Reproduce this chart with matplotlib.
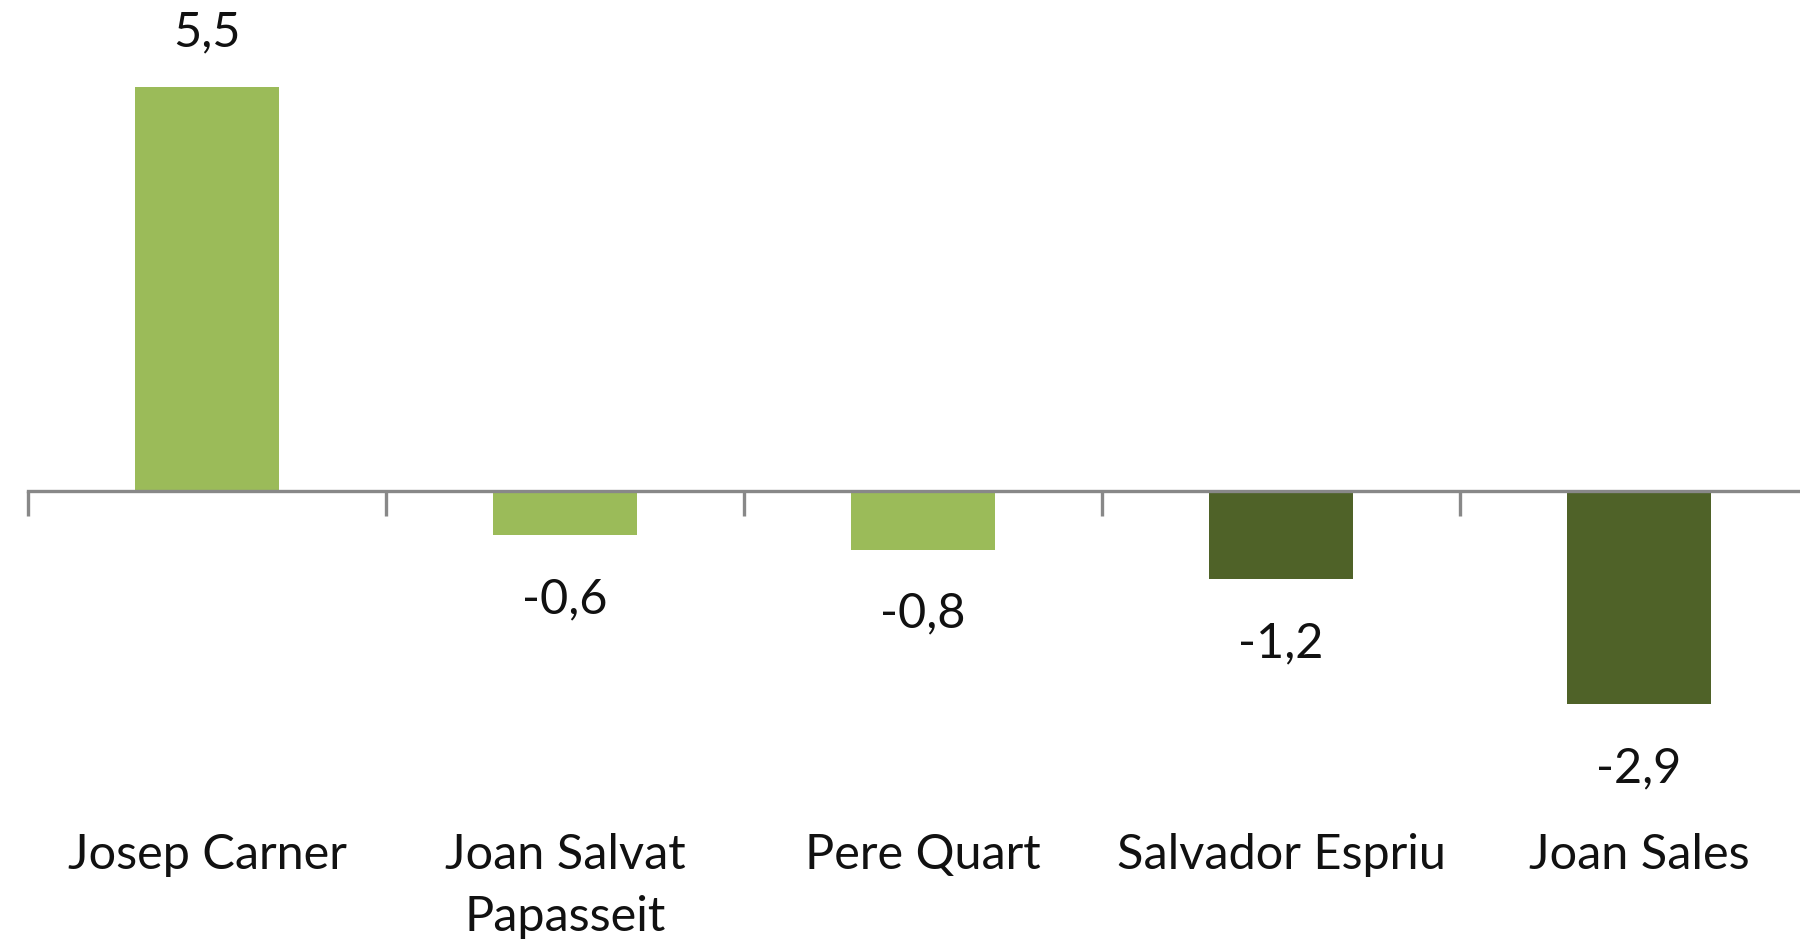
import matplotlib
matplotlib.use("Agg")
import matplotlib.pyplot as plt
from matplotlib.ticker import FixedLocator

categories = ["Josep Carner", "Joan Salvat\nPapasseit", "Pere Quart", "Salvador Espriu", "Joan Sales"]
values = [5.5, -0.6, -0.8, -1.2, -2.9]
value_labels = ["5,5", "-0,6", "-0,8", "-1,2", "-2,9"]
bar_colors = ["#9BBB59", "#9BBB59", "#9BBB59", "#4F6228", "#4F6228"]

plt.rcParams['font.family'] = ['Lato', 'DejaVu Sans']

fig = plt.figure(figsize=(18, 9.39), dpi=100)
ax = fig.add_axes([28/1800, 0, 1790/1800, 1])

x = list(range(len(categories)))
bars = ax.bar(x, values, width=0.4, color=bar_colors, zorder=2)

ax.set_xlim(-0.5, len(categories) - 0.5)
ax.set_ylim(-(939 - 491) / 73.5, 491 / 73.5)

for s in ["top", "right", "left"]:
    ax.spines[s].set_visible(False)
ax.spines["bottom"].set_position(("data", 0))
ax.spines["bottom"].set_color("#888888")
ax.spines["bottom"].set_linewidth(2.4)
ax.spines["bottom"].set_zorder(3)
ax.yaxis.set_visible(False)

ax.set_xticks(x)
ax.set_xticklabels(categories, fontsize=35, color="#111111")
ax.tick_params(axis="x", which="major", length=0, pad=246)
ax.xaxis.set_minor_locator(FixedLocator([i - 0.5 for i in range(len(categories) + 1)]))
ax.tick_params(axis="x", which="minor", length=18, width=2.4, color="#888888", direction="out")
for lab in ax.get_xticklabels():
    lab.set_linespacing(1.5)

for b, v, t in zip(bars, values, value_labels):
    off = 39 if v >= 0 else -46
    ax.annotate(t, xy=(b.get_x() + b.get_width() / 2, v), xytext=(0, off),
                textcoords="offset points", ha="center", va="center",
                fontsize=35, color="#111111")

fig.savefig("out.png", dpi=100)
